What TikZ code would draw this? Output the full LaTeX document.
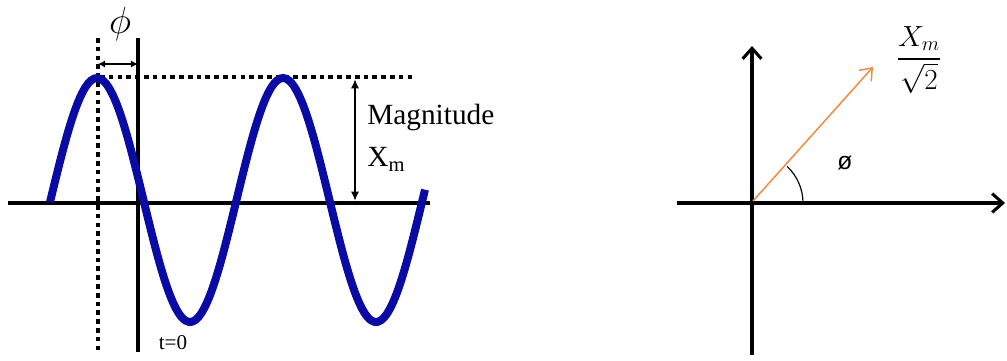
\documentclass[tikz,border=0pt]{standalone}
\usepackage{fontspec}
\usepackage{amsmath}
\setmainfont{Liberation Serif}
\setsansfont{Liberation Sans}
\usetikzlibrary{arrows.meta, positioning, calc}
\definecolor{waveblue}{RGB}{10,10,165}
\definecolor{phasororange}{RGB}{240,140,70}
\tikzset{
  axis/.style={draw=black, line width=2.6pt},
  guide/.style={draw=black, line width=3.2pt, dash pattern=on 4pt off 3.5pt},
  wave/.style={draw=waveblue, line width=6.8pt},
  dim/.style={draw=black, line width=1.6pt, {Latex[length=8pt,width=7pt]}-{Latex[length=8pt,width=7pt]}},
  shiftarrow/.style={draw=black, line width=1pt, {Latex[length=6pt,width=6pt]}-{Latex[length=6pt,width=6pt]}},
  phasor/.style={draw=phasororange, line width=1.3pt, -{Straight Barb[length=9pt,width=14pt]}},
  label/.style={inner sep=1pt, font=\fontsize{25}{36}\selectfont, align=left},
}

\begin{document}
\begin{tikzpicture}[x=0.03cm, y=-0.03cm]
\useasboundingbox (0,0) rectangle (1007,360);

% time domain
\coordinate (hleft) at (8,203);
\coordinate (hright) at (430,203);
\coordinate (vtop) at (138,38);
\coordinate (vbot) at (138,352);
\coordinate (dtop) at (98,38);
\coordinate (dbot) at (98,350);
\coordinate (pkleft) at (100,77);
\coordinate (pkright) at (415,77);
\draw[guide] (dtop) -- (dbot);
\draw[guide] (pkleft) -- (pkright);
\draw[axis] (hleft) -- (hright);
\draw[axis] (vtop) -- (vbot);
\draw[wave, domain=50:425, samples=120, smooth]
  plot (\x, {200 - 122*sin((\x-50.5)*1.9355)});

\coordinate (sa) at (98,64);
\coordinate (sb) at (138,64);
\draw[shiftarrow] (sa) -- (sb);
\node[label, font=\fontsize{24}{26}\selectfont] (phi) at (120,24) {\scalebox{1.3}{$\phi$}};

\coordinate (magtop) at (355,79);
\coordinate (magbot) at (355,201);
\draw[dim] (magtop) -- (magbot);
\node[label, anchor=north west] (mag) at (366,103) {Magnitude\\X\textsubscript{m}};
\node[label, font=\fontsize{18}{20}\selectfont] (tzero) at (173,343) {t=0};

% phasor
\coordinate (pleft) at (677,203);
\coordinate (pright) at (1005,203);
\coordinate (pbot) at (752,355);
\coordinate (ptop) at (752,46);
\coordinate (origin) at (753,201);
\coordinate (tip) at (873,67);
\draw[axis, -{Straight Barb[length=9pt,width=16pt]}] (pleft) -- (pright);
\draw[axis, -{Straight Barb[length=9pt,width=16pt]}] (pbot) -- (ptop);
\draw[phasor] (origin) -- (tip);
\draw[black, line width=1pt] ($(origin)+(50,2)$) arc[start angle=0, end angle=-47, radius=50];
\node[label, font=\fontsize{21}{23}\selectfont\sffamily] (ang) at (845,163) {ø};
\node[label, font=\fontsize{24}{26}\selectfont] (rms) at (919,60) {$\dfrac{X_m}{\sqrt{2}}$};
\end{tikzpicture}
\end{document}
